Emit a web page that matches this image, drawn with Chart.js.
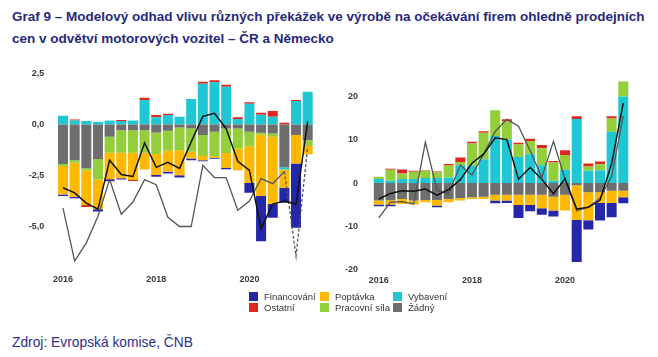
<!DOCTYPE html>
<html><head><meta charset="utf-8">
<script src="https://cdn.jsdelivr.net/npm/chart.js@4.4.0/dist/chart.umd.min.js"></script>
<style>
body{margin:0;background:#fff;width:658px;height:357px;overflow:hidden;position:relative;font-family:"Liberation Sans",Arial,sans-serif;}
#title{position:absolute;left:12px;top:6px;font-weight:bold;font-size:13.5px;line-height:22px;color:#27297d;white-space:nowrap;}
#src{position:absolute;left:12px;top:335px;font-size:13.8px;color:#2d2f8c;}
#c1{position:absolute;left:0;top:55px;}
#c2{position:absolute;left:330px;top:55px;}
#legend{position:absolute;left:249px;top:292px;font-size:9.5px;color:#333;}
.li{position:absolute;white-space:nowrap;height:10px;line-height:10px;}
.sw{display:inline-block;width:9px;height:9px;vertical-align:top;margin-right:6px;}
</style></head>
<body>
<div id="title">Graf 9 – Modelový odhad vlivu různých překážek ve výrobě na očekávání firem ohledně prodejních<br>cen v odvětví motorových vozitel – ČR a Německo</div>
<canvas id="c1" width="330" height="240"></canvas>
<canvas id="c2" width="328" height="240"></canvas>
<div id="legend"></div>
<div id="src">Zdroj: Evropská komise, ČNB</div>
<script>
// categories: quarters 2016 Q1 – 2021 Q2
const CATS = ['2016 Q1','2016 Q2','2016 Q3','2016 Q4','2017 Q1','2017 Q2','2017 Q3','2017 Q4',
              '2018 Q1','2018 Q2','2018 Q3','2018 Q4','2019 Q1','2019 Q2','2019 Q3','2019 Q4',
              '2020 Q1','2020 Q2','2020 Q3','2020 Q4','2021 Q1','2021 Q2'];
const X_TICK_CATS = ['2016 Q1','2018 Q1','2020 Q1'];
const X_TICK_LABELS = ['2016','2018','2020'];

const SERIES_NAMES = ['Financování','Ostatní','Poptávka','Pracovní síla','Vybavení','Žádný'];

// ČR
const CZ_ZADNY      = [-1.94,-1.75,-2.15,-1.69,-0.6,-0.28,-0.28,-0.28,-0.39,-0.31,-0.15,-0.2,-0.52,-0.35,-0.2,-0.2,-0.35,-0.4,-0.44,-2.1,-0.52,-0.77];
const CZ_VYBAVENI   = [0.43,0.2,0.17,0.12,0.19,0.17,0.19,1.2,0.35,0.46,0.38,1.25,2.0,2.07,1.85,0.27,1.02,0.48,0.38,-0.1,1.15,1.61];
const CZ_PRACOVNI   = [-0.1,-0.13,-0.1,-1.0,-0.78,-1.1,-1.1,-1.1,-1.06,-0.98,-1.11,-1.14,-1.03,-1.2,-1.2,-0.98,-0.72,-0.1,-0.16,0,0,-0.28];
const CZ_POPTAVKA   = [-1.39,-1.67,-1.7,-1.47,-1.3,-1.26,-1.34,-0.82,-1.03,-1.03,-1.23,-0.33,-0.2,-0.08,-0.72,-1.06,-1.8,-3.0,-3.3,-0.9,-1.39,-0.41];
const CZ_OSTATNI    = [0,0.05,-0.1,0,0,0.05,-0.05,0.11,0.11,0.07,0,0,0.1,0.1,0.1,0.08,0.07,0.1,0.28,0.09,0.05,0];
const CZ_FINANCOVANI= [-0.08,-0.07,0,-0.11,-0.1,-0.05,0,0,-0.08,-0.08,-0.11,-0.08,-0.05,-0.05,-0.07,0,-0.47,-2.22,-0.67,-0.74,-3.15,0];
const CZ_MODEL      = [-3.1,-3.35,-3.85,-4.15,-1.75,-2.45,-2.55,-0.9,-2.1,-1.85,-2.15,-0.85,0.4,0.55,-0.2,-1.8,-2.25,-5.1,-3.9,-3.75,-3.9,0.15];
const CZ_ACTUAL     = [-4.1,-6.7,-5.8,-4.5,-2.7,-4.4,-3.8,-2.7,-2.95,-4.55,-5.0,-5.0,-2.0,-2.6,-2.6,-4.2,-3.75,-2.65,-2.9,-2.3,-6.45,-1.1];
const CZ_YTICKS = [2.5,0,-2.5,-5];

// Německo
const DE_ZADNY      = [-4.07,-4.0,-3.69,-4.07,-3.92,-3.92,-3.69,-3.46,-3.3,-3.15,-2.69,-2.69,-2.69,-2.69,-2.69,-3.15,-2.69,-0.5,-2.15,-2.15,-1.77,-1.77];
const DE_VYBAVENI   = [0.92,0.54,0.92,0.92,1.15,1.15,1.3,4.15,4.0,5.53,10.9,10.1,6.07,6.68,4.15,0.54,3.07,14.9,2.84,3.0,11.9,20.1];
const DE_PRACOVNI   = [0.54,2.53,1.3,1.69,1.69,1.3,2.76,0.77,5.2,6.15,6.0,4.2,2.9,3.07,3.92,4.22,3.46,0,1.0,1.38,3.07,3.46];
const DE_POPTAVKA   = [-0.92,-1.0,-1.15,-0.92,-0.54,-1.3,-0.77,-0.6,-0.38,-0.54,-1.38,-1.38,-2.38,-2.38,-3.15,-3.23,-3.69,-8.1,-6.5,-2.46,-2.84,-1.54];
const DE_OSTATNI    = [0,0.23,0.92,0.23,0.15,0.23,0.38,1.0,0.38,0.38,0,0.5,0.38,0.54,0.77,0.38,1.07,0.6,0.7,0.6,0.54,0];
const DE_FINANCOVANI= [-0.38,-0.38,0,0,0,-0.38,0,0,0,0,-0.61,-0.54,-3.07,-1.45,-1.54,-1.38,0,-9.7,-2.15,-4.07,-3.3,-1.38];
const DE_MODEL      = [-3.7,-2.4,-1.8,-1.9,-1.4,-2.8,-1.5,0.8,4.6,6.7,10.5,10.1,0.9,3.6,0.9,-2.5,1.0,-6.0,-5.6,-4.0,4.5,18.6];
const DE_ACTUAL     = [-8.1,-4.45,-4.3,-4.84,9.5,-1.6,-2.5,4.2,1.9,6.7,12.0,14.8,13.2,7.5,1.3,9.7,0.9,-6.4,-5.6,-3.5,1.5,15.6];
const DE_YTICKS = [20,10,0,-10,-20];

const COLORS = {
  'Financování':'#2327a8','Ostatní':'#e0261f','Poptávka':'#ffb800',
  'Pracovní síla':'#93cf3b','Vybavení':'#1ec7d3','Žádný':'#6e6e6e'
};

// legend (column-major 3x2)
const leg = document.getElementById('legend');
const colX = [0,71,144];
SERIES_NAMES.forEach((n,i)=>{
  const d = document.createElement('div');
  d.className='li';
  d.style.left = colX[Math.floor(i/2)]+'px';
  d.style.top = (i%2)*10.5+'px';
  d.innerHTML = '<span class="sw" style="background:'+COLORS[n]+'"></span>'+n;
  leg.appendChild(d);
});

function barDs(label, data){
  return {type:'bar', label, data, backgroundColor:COLORS[label], borderWidth:0,
          barPercentage:0.86, categoryPercentage:1.0, stack:'bars', order:1};
}
function lineDs(label, data, color, width, stack, dashFrom){
  const ds = {type:'line', label, data, borderColor:color, borderWidth:width, pointRadius:0,
          tension:0, fill:false, stack, order:0};
  if (dashFrom !== undefined) {
    ds.segment = {borderDash: ctx => ctx.p0DataIndex >= dashFrom ? [3,2] : undefined};
  }
  return ds;
}

const tickFont = {family:'Liberation Sans', size:9, weight:'bold'};

function makeChart(id, comps, model, actual, yticks, ymin, ymax, fmt, geo, dashFrom){
  const datasets = [
    barDs('Žádný', comps.zadny),
    barDs('Vybavení', comps.vybaveni),
    barDs('Pracovní síla', comps.pracovni),
    barDs('Poptávka', comps.poptavka),
    barDs('Ostatní', comps.ostatni),
    barDs('Financování', comps.financovani),
    lineDs('model', model, '#111111', 1.5, 'l1'),
    lineDs('skutečnost', actual, '#555555', 1.3, 'l2', dashFrom)
  ];
  return new Chart(document.getElementById(id), {
    type:'bar',
    data:{labels:CATS, datasets},
    options:{
      responsive:false, animation:false, devicePixelRatio:1,
      layout:{padding:{left:0,right:geo.padRight,top:geo.padTop,bottom:0}},
      plugins:{legend:{display:false}, tooltip:{enabled:false}},
      scales:{
        x:{stacked:true, grid:{display:false, drawTicks:false}, border:{display:false},
           afterFit:s=>{s.height=geo.xH;},
           ticks:{autoSkip:false, maxRotation:0, padding:geo.xPad, font:tickFont, color:'#3a3a3a',
                  callback:(v,i)=>{const k=X_TICK_CATS.indexOf(CATS[i]); return k>=0?X_TICK_LABELS[k]:'';}}},
        y:{stacked:true, min:ymin, max:ymax, grid:{display:false, drawTicks:false}, border:{display:false},
           afterFit:s=>{s.width=geo.yW;},
           afterBuildTicks:s=>{s.ticks=yticks.map(v=>({value:v}));},
           ticks:{padding:geo.yPad, font:tickFont, color:'#3a3a3a', callback:v=>fmt(v)}}
      }
    }
  });
}

makeChart('c1',
  {zadny:CZ_ZADNY, vybaveni:CZ_VYBAVENI, pracovni:CZ_PRACOVNI, poptavka:CZ_POPTAVKA, ostatni:CZ_OSTATNI, financovani:CZ_FINANCOVANI},
  CZ_MODEL, CZ_ACTUAL, CZ_YTICKS, -7, 2.5,
  v=>(Math.abs(v)<1e-9?0:v).toFixed(1).replace('.',','),
  {padRight:16.5, padTop:18.5, xH:27.7, yW:57.2, xPad:7, yPad:13}, 19);

makeChart('c2',
  {zadny:DE_ZADNY, vybaveni:DE_VYBAVENI, pracovni:DE_PRACOVNI, poptavka:DE_POPTAVKA, ostatni:DE_OSTATNI, financovani:DE_FINANCOVANI},
  DE_MODEL, DE_ACTUAL, DE_YTICKS, -20, 25,
  v=>String(Math.round(v)),
  {padRight:28.9, padTop:18.7, xH:25.8, yW:43, xPad:6, yPad:15});
</script>
</body></html>
